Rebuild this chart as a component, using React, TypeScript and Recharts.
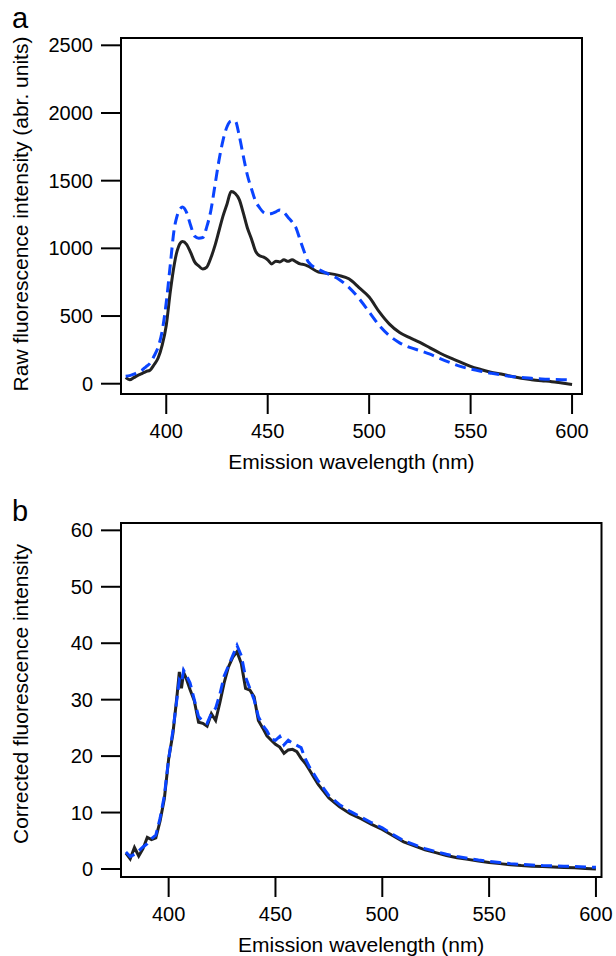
import React from 'react';
import { LineChart, Line, XAxis, YAxis, ReferenceArea } from 'recharts';

// emission wavelength grid (nm)
const wavelengths = [
  380, 382, 384, 386, 388, 390, 392, 394, 396, 398, 400, 402, 404, 405, 406, 407, 408,
  410, 412, 414, 416, 418, 420, 422, 424, 426, 428, 430, 432, 434, 436, 438, 440, 442,
  444, 446, 448, 450, 452, 454, 456, 458, 460, 462, 464, 466, 468, 470,
  475, 480, 485, 490, 495, 500, 505, 510, 515, 520, 525, 530, 535, 540, 545, 550, 555,
  560, 565, 570, 575, 580, 585, 590, 595, 600,
];

// panel a: raw intensity
const rawSolid = [
  45, 30, 45, 62, 75, 90, 100, 140, 190, 285, 430, 680, 885, 960, 1010, 1040, 1050,
  1030, 970, 900, 870, 848, 862, 930, 1020, 1130, 1240, 1330, 1420, 1405, 1360, 1260, 1150, 1070,
  980, 945, 935, 915, 885, 905, 900, 915, 905, 915, 900, 885, 880, 868,
  825, 815, 800, 775, 710, 640, 530, 440, 378, 340, 305, 265, 225, 190, 160, 128, 105,
  85, 72, 55, 40, 30, 22, 15, 5, -5,
];
const rawDashed = [
  55, 60, 70, 85, 100, 125, 150, 205, 270, 390, 600, 880, 1150, 1220, 1270, 1295, 1305,
  1265, 1170, 1090, 1075, 1080, 1160, 1280, 1465, 1650, 1800, 1900, 1940, 1940, 1830, 1680, 1540, 1440,
  1350, 1300, 1265, 1255, 1258, 1270, 1283, 1265, 1230, 1195, 1150, 1060, 975, 900,
  845, 810, 772, 712, 630, 530, 430, 355, 302, 268, 245, 218, 185, 155, 128, 108, 92,
  78, 65, 54, 47, 40, 35, 32, 30, 28,
];

// panel b: corrected intensity
const correctedSolid = [
  2.8, 1.8, 3.8, 2.3, 3.6, 5.6, 5.2, 5.5, 8.5, 12.5, 19.5, 24, 31, 34.9, 32, 34.8, 34,
  31.8, 29.8, 26, 25.8, 25.3, 27.5, 26.3, 29.5, 33, 35.8, 37.5, 38.5, 36.4, 32, 31.7, 30.5, 26.3,
  25, 23.6, 22.8, 22.1, 21.6, 20.5, 21.1, 21.2, 20.8, 19.6, 18.7, 17.5, 16.2, 15,
  12.6, 11, 9.8, 8.9, 7.9, 7, 5.9, 4.8, 4.1, 3.4, 2.9, 2.4, 2.0, 1.7, 1.4, 1.15, 0.95,
  0.75, 0.6, 0.5, 0.42, 0.35, 0.28, 0.2, 0.1, 0,
];
const correctedDashed = [
  3.0, 2.2, 2.6, 3.2, 3.9, 4.5, 5.4, 6.0, 9, 13, 19.5, 24.5, 30.5, 33.5, 33, 35.2, 34.5,
  33, 30, 27, 26.2, 25.8, 27.6, 28.5, 31, 34.2, 36, 37.8, 39.6, 37.8, 34, 32, 30, 27,
  25.5, 24.5, 23, 22.8, 23.5, 22, 22.8, 22.3, 21.9, 21.5, 19.5, 18, 16.8, 15.6,
  13, 11.4, 10.2, 9.2, 8.2, 7.3, 6.1, 5.0, 4.3, 3.6, 3.1, 2.6, 2.2, 1.9, 1.6, 1.35, 1.15,
  0.95, 0.8, 0.7, 0.6, 0.55, 0.5, 0.45, 0.35, 0.3,
];

const xTicks = [400, 450, 500, 550, 600];
const rawTicks = [0, 500, 1000, 1500, 2000, 2500];
const correctedTicks = [0, 10, 20, 30, 40, 50, 60];

const FONT = '"Liberation Sans", Arial, Helvetica, sans-serif';
const INK = '#000';
const SOLID = '#222222';
const DASHED = '#0a44ff';

const rawData = wavelengths.map((w, i) => ({ w, solid: rawSolid[i], dashed: rawDashed[i] }));
const correctedData = wavelengths.map((w, i) => ({ w, solid: correctedSolid[i], dashed: correctedDashed[i] }));

function Panel({ data, height, margin, xDomain, yDomain, yTicks, yTitle, yShift, curve }: any) {
  const tickStyle = { fill: INK, fontSize: 20, fontFamily: FONT };
  return (
    <LineChart width={616} height={height} data={data} margin={margin}>
      <XAxis
        dataKey="w"
        type="number"
        domain={xDomain}
        ticks={xTicks}
        allowDataOverflow
        height={60}
        axisLine={false}
        tickLine={{ stroke: INK, strokeWidth: 2 }}
        tickSize={20}
        tickMargin={10}
        tick={tickStyle}
        label={{
          value: 'Emission wavelength (nm)',
          content: (p: any) => {
            const vb = p.viewBox || {};
            return (
              <text x={vb.x + vb.width / 2} y={vb.y + 75} textAnchor="middle"
                fontSize={21} fontFamily={FONT} fill={INK}>
                Emission wavelength (nm)
              </text>
            );
          },
        }}
      />
      <YAxis
        type="number"
        domain={yDomain}
        ticks={yTicks}
        allowDataOverflow
        width={121}
        axisLine={false}
        tickLine={{ stroke: INK, strokeWidth: 2 }}
        tickSize={20}
        tickMargin={8}
        tick={tickStyle}
        label={{
          value: yTitle,
          content: (p: any) => {
            const vb = p.viewBox || {};
            const cx = 27.5;
            const cy = vb.y + vb.height / 2 - yShift;
            return (
              <text x={cx} y={cy} transform={`rotate(-90 ${cx} ${cy})`} textAnchor="middle"
                fontSize={21} fontFamily={FONT} fill={INK}>
                {yTitle}
              </text>
            );
          },
        }}
      />
      <ReferenceArea x1={xDomain[0]} x2={xDomain[1]} y1={yDomain[0]} y2={yDomain[1]}
        fill="none" stroke={INK} strokeWidth={2} />
      <Line type={curve} dataKey="solid" stroke={SOLID} strokeWidth={3} dot={false}
        activeDot={false} isAnimationActive={false} />
      <Line type={curve} dataKey="dashed" stroke={DASHED} strokeWidth={3} strokeDasharray="11 6"
        dot={false} activeDot={false} isAnimationActive={false} />
    </LineChart>
  );
}

const letterStyle: React.CSSProperties = {
  position: 'absolute', left: 12, fontSize: 29, lineHeight: 1, fontFamily: FONT, color: INK,
};

export default function App() {
  return (
    <div style={{ position: 'absolute', left: 0, top: 0, width: 616, height: 956, background: '#fff' }}>
      <div style={{ ...letterStyle, top: 4 }}>a</div>
      <div style={{ position: 'absolute', left: 0, top: 0 }}>
        <Panel
          data={rawData}
          height={480}
          margin={{ top: 38, right: 34, bottom: 26, left: 0 }}
          xDomain={[377.7, 604.9]}
          yDomain={[-76, 2554]}
          yTicks={rawTicks}
          yTitle="Raw fluorescence intensity (abr. units)"
          yShift={2}
          curve="monotone"
        />
      </div>
      <div style={{ ...letterStyle, top: 497 }}>b</div>
      <div style={{ position: 'absolute', left: 0, top: 480 }}>
        <Panel
          data={correctedData}
          height={476}
          margin={{ top: 43, right: 14.5, bottom: 19, left: 0 }}
          xDomain={[377.7, 602.6]}
          yDomain={[-1.42, 61.3]}
          yTicks={correctedTicks}
          yTitle="Corrected fluorescence intensity"
          yShift={6}
          curve="linear"
        />
      </div>
    </div>
  );
}
